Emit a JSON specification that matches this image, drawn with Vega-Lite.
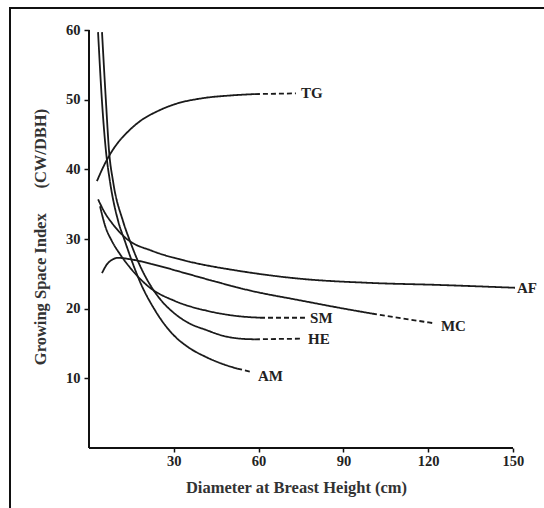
{
  "$schema": "https://vega.github.io/schema/vega-lite/v6.json",
  "width": 542,
  "height": 507,
  "autosize": {"type": "none"},
  "padding": {"left": 10, "top": 8, "right": 0, "bottom": 0},
  "background": "white",
  "config": {"view": {"stroke": "#111", "strokeWidth": 2}},
  "datasets": {
    "curves": [
      {"curve": "TG", "seg": "solid", "x": 2.8, "y": 38.3},
      {"curve": "TG", "seg": "solid", "x": 5.0, "y": 40.3},
      {"curve": "TG", "seg": "solid", "x": 7.5, "y": 42.2},
      {"curve": "TG", "seg": "solid", "x": 10.0, "y": 43.7},
      {"curve": "TG", "seg": "solid", "x": 14.0, "y": 45.5},
      {"curve": "TG", "seg": "solid", "x": 18.0, "y": 46.9},
      {"curve": "TG", "seg": "solid", "x": 24.0, "y": 48.3},
      {"curve": "TG", "seg": "solid", "x": 30.0, "y": 49.3},
      {"curve": "TG", "seg": "solid", "x": 40.0, "y": 50.2},
      {"curve": "TG", "seg": "solid", "x": 50.0, "y": 50.6},
      {"curve": "TG", "seg": "solid", "x": 58.7, "y": 50.8},
      {"curve": "TG", "seg": "dashed", "x": 58.7, "y": 50.8},
      {"curve": "TG", "seg": "dashed", "x": 73.2, "y": 50.9},

      {"curve": "AF", "seg": "solid", "x": 3.2, "y": 35.7},
      {"curve": "AF", "seg": "solid", "x": 5.7, "y": 33.7},
      {"curve": "AF", "seg": "solid", "x": 8.1, "y": 32.3},
      {"curve": "AF", "seg": "solid", "x": 13.4, "y": 30.0},
      {"curve": "AF", "seg": "solid", "x": 22.3, "y": 28.3},
      {"curve": "AF", "seg": "solid", "x": 34.0, "y": 26.9},
      {"curve": "AF", "seg": "solid", "x": 53.4, "y": 25.4},
      {"curve": "AF", "seg": "solid", "x": 74.6, "y": 24.3},
      {"curve": "AF", "seg": "solid", "x": 99.4, "y": 23.7},
      {"curve": "AF", "seg": "solid", "x": 124.2, "y": 23.4},
      {"curve": "AF", "seg": "solid", "x": 150.7, "y": 23.0},

      {"curve": "MC", "seg": "solid", "x": 4.6, "y": 25.1},
      {"curve": "MC", "seg": "solid", "x": 6.4, "y": 26.4},
      {"curve": "MC", "seg": "solid", "x": 8.1, "y": 27.0},
      {"curve": "MC", "seg": "solid", "x": 10.3, "y": 27.3},
      {"curve": "MC", "seg": "solid", "x": 14.5, "y": 27.1},
      {"curve": "MC", "seg": "solid", "x": 22.3, "y": 26.4},
      {"curve": "MC", "seg": "solid", "x": 34.0, "y": 25.1},
      {"curve": "MC", "seg": "solid", "x": 44.6, "y": 23.9},
      {"curve": "MC", "seg": "solid", "x": 57.0, "y": 22.6},
      {"curve": "MC", "seg": "solid", "x": 74.6, "y": 21.2},
      {"curve": "MC", "seg": "solid", "x": 91.6, "y": 19.9},
      {"curve": "MC", "seg": "solid", "x": 100.1, "y": 19.3},
      {"curve": "MC", "seg": "dashed", "x": 100.1, "y": 19.3},
      {"curve": "MC", "seg": "dashed", "x": 111.0, "y": 18.6},
      {"curve": "MC", "seg": "dashed", "x": 122.1, "y": 17.9},

      {"curve": "SM", "seg": "solid", "x": 3.9, "y": 34.7},
      {"curve": "SM", "seg": "solid", "x": 5.7, "y": 31.9},
      {"curve": "SM", "seg": "solid", "x": 8.1, "y": 29.7},
      {"curve": "SM", "seg": "solid", "x": 11.0, "y": 27.8},
      {"curve": "SM", "seg": "solid", "x": 14.5, "y": 25.9},
      {"curve": "SM", "seg": "solid", "x": 21.6, "y": 23.0},
      {"curve": "SM", "seg": "solid", "x": 30.4, "y": 21.1},
      {"curve": "SM", "seg": "solid", "x": 41.7, "y": 19.7},
      {"curve": "SM", "seg": "solid", "x": 53.4, "y": 18.9},
      {"curve": "SM", "seg": "solid", "x": 60.5, "y": 18.7},
      {"curve": "SM", "seg": "dashed", "x": 60.5, "y": 18.7},
      {"curve": "SM", "seg": "dashed", "x": 76.4, "y": 18.7},

      {"curve": "HE", "seg": "solid", "x": 4.6, "y": 59.7},
      {"curve": "HE", "seg": "solid", "x": 6.0, "y": 49.7},
      {"curve": "HE", "seg": "solid", "x": 7.1, "y": 42.6},
      {"curve": "HE", "seg": "solid", "x": 8.5, "y": 38.3},
      {"curve": "HE", "seg": "solid", "x": 12.0, "y": 32.6},
      {"curve": "HE", "seg": "solid", "x": 14.5, "y": 29.7},
      {"curve": "HE", "seg": "solid", "x": 18.0, "y": 26.2},
      {"curve": "HE", "seg": "solid", "x": 21.5, "y": 23.5},
      {"curve": "HE", "seg": "solid", "x": 25.1, "y": 21.4},
      {"curve": "HE", "seg": "solid", "x": 29.7, "y": 19.5},
      {"curve": "HE", "seg": "solid", "x": 35.0, "y": 18.0},
      {"curve": "HE", "seg": "solid", "x": 41.7, "y": 16.9},
      {"curve": "HE", "seg": "solid", "x": 47.5, "y": 16.1},
      {"curve": "HE", "seg": "solid", "x": 53.4, "y": 15.7},
      {"curve": "HE", "seg": "solid", "x": 58.7, "y": 15.6},
      {"curve": "HE", "seg": "dashed", "x": 58.7, "y": 15.6},
      {"curve": "HE", "seg": "dashed", "x": 75.4, "y": 15.7},

      {"curve": "AM", "seg": "solid", "x": 3.2, "y": 59.7},
      {"curve": "AM", "seg": "solid", "x": 4.6, "y": 49.7},
      {"curve": "AM", "seg": "solid", "x": 6.0, "y": 42.6},
      {"curve": "AM", "seg": "solid", "x": 7.4, "y": 38.3},
      {"curve": "AM", "seg": "solid", "x": 10.3, "y": 32.6},
      {"curve": "AM", "seg": "solid", "x": 12.7, "y": 29.7},
      {"curve": "AM", "seg": "solid", "x": 15.2, "y": 26.8},
      {"curve": "AM", "seg": "solid", "x": 18.0, "y": 23.9},
      {"curve": "AM", "seg": "solid", "x": 23.3, "y": 19.8},
      {"curve": "AM", "seg": "solid", "x": 29.7, "y": 16.3},
      {"curve": "AM", "seg": "solid", "x": 35.0, "y": 14.5},
      {"curve": "AM", "seg": "solid", "x": 41.7, "y": 13.0},
      {"curve": "AM", "seg": "solid", "x": 47.0, "y": 12.1},
      {"curve": "AM", "seg": "solid", "x": 52.4, "y": 11.4},
      {"curve": "AM", "seg": "dashed", "x": 52.4, "y": 11.4},
      {"curve": "AM", "seg": "dashed", "x": 57.7, "y": 10.9}
    ],
    "labels": [
      {"label": "TG", "x": 75.0, "y": 51.0},
      {"label": "SM", "x": 78.2, "y": 18.7},
      {"label": "HE", "x": 77.5, "y": 15.6},
      {"label": "MC", "x": 124.5, "y": 17.5},
      {"label": "AF", "x": 151.4, "y": 23.0},
      {"label": "AM", "x": 59.8, "y": 10.3}
    ],
    "axes": [
      {"x": 0, "y": 0, "x2": 0, "y2": 60},
      {"x": 0, "y": 0, "x2": 150, "y2": 0}
    ]
  },
  "encoding": {
    "x": {
      "field": "x", "type": "quantitative",
      "scale": {"domain": [-27.95, 163.8], "nice": false, "zero": false},
      "axis": {
        "orient": "bottom", "offset": -67, "values": [30, 60, 90, 120, 150],
        "domain": false, "grid": false, "tickSize": 4, "tickColor": "#111", "tickWidth": 1.5,
        "labelFont": "Liberation Serif", "labelFontWeight": "bold", "labelFontSize": 14.5, "labelColor": "#222",
        "labelPadding": 2, "labelFlush": false, "labelOverlap": false,
        "title": "Diameter at Breast Height (cm)",
        "titleFont": "Liberation Serif", "titleFontSize": 16.5, "titleFontWeight": "bold", "titleColor": "#333",
        "titleX": 286, "titleY": 39, "titleBaseline": "middle", "titleAlign": "center"
      }
    },
    "y": {
      "field": "y", "type": "quantitative",
      "scale": {"domain": [-9.617, 63.158], "nice": false, "zero": false},
      "axis": {
        "orient": "left", "offset": -79, "values": [10, 20, 30, 40, 50, 60],
        "domain": false, "grid": false, "tickSize": 5, "tickColor": "#111", "tickWidth": 1.5,
        "labelFont": "Liberation Serif", "labelFontWeight": "bold", "labelFontSize": 14.5, "labelColor": "#222",
        "labelPadding": 4, "labelFlush": false, "labelOverlap": false,
        "title": "Growing Space Index\u00a0\u00a0\u00a0\u00a0\u00a0\u00a0(CW/DBH)",
        "titleFont": "Liberation Serif", "titleFontSize": 16.5, "titleFontWeight": "bold", "titleColor": "#333",
        "titleX": -49, "titleY": 228.5, "titleAngle": -90, "titleBaseline": "middle", "titleAlign": "center"
      }
    }
  },
  "layer": [
    {
      "data": {"name": "axes"},
      "mark": {"type": "rule", "color": "#111", "strokeWidth": 2},
      "encoding": {"x2": {"field": "x2"}, "y2": {"field": "y2"}}
    },
    {
      "data": {"name": "curves"},
      "mark": {"type": "line", "color": "#1a1a1a", "strokeWidth": 1.8, "interpolate": "monotone"},
      "encoding": {
        "detail": {"field": "curve", "type": "nominal"},
        "strokeDash": {
          "field": "seg", "type": "nominal",
          "scale": {"domain": ["solid", "dashed"], "range": [[1, 0], [5, 3]]},
          "legend": null
        }
      }
    },
    {
      "data": {"name": "labels"},
      "mark": {"type": "text", "align": "left", "baseline": "middle", "font": "Liberation Serif", "fontWeight": "bold", "fontSize": 15, "color": "#222"},
      "encoding": {"text": {"field": "label", "type": "nominal"}}
    }
  ]
}
